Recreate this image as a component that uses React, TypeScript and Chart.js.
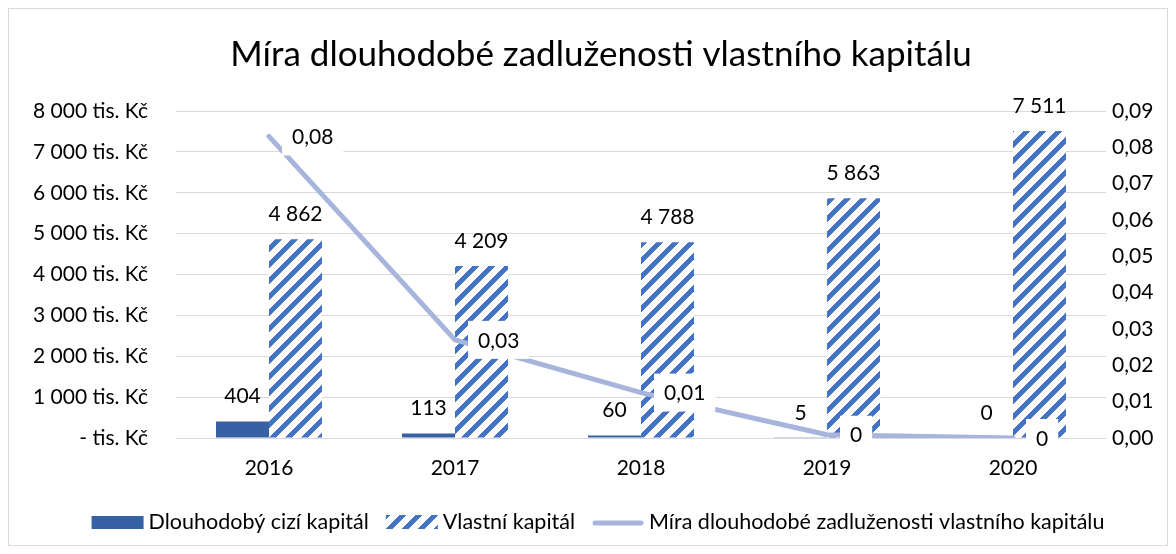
import React, { useEffect, useRef } from "react";
import { Chart, registerables } from "chart.js";

Chart.register(...registerables);

const chartTitle = "Míra dlouhodobé zadluženosti vlastního kapitálu";
const categories = ["2016", "2017", "2018", "2019", "2020"];
const seriesNames = [
  "Dlouhodobý cizí kapitál",
  "Vlastní kapitál",
  "Míra dlouhodobé zadluženosti vlastního kapitálu",
];
const longTermDebt = [404, 113, 60, 5, 0];
const equity = [4862, 4209, 4788, 5863, 7511];
const debtRatio = [0.083, 0.027, 0.0125, 0.0009, 0];
const leftTickLabels = [
  "- tis. Kč",
  "1 000 tis. Kč",
  "2 000 tis. Kč",
  "3 000 tis. Kč",
  "4 000 tis. Kč",
  "5 000 tis. Kč",
  "6 000 tis. Kč",
  "7 000 tis. Kč",
  "8 000 tis. Kč",
];
const rightTickLabels = [
  "0,00",
  "0,01",
  "0,02",
  "0,03",
  "0,04",
  "0,05",
  "0,06",
  "0,07",
  "0,08",
  "0,09",
];

const FONT = "Lato, 'Open Sans', sans-serif";
const TEXT = "#000000";
const SOLID = "#3761a5";
const HATCH = "#4472c4";
const LINE = "#a7b5dc";
const GRID = "#d9d9d9";

function makeHatch(): CanvasPattern | string {
  const size = 16;
  const c = document.createElement("canvas");
  c.width = size;
  c.height = size;
  const g = c.getContext("2d");
  if (!g) return HATCH;
  g.fillStyle = "#ffffff";
  g.fillRect(0, 0, size, size);
  g.fillStyle = HATCH;
  for (let y = 0; y < size; y++) {
    for (let x = 0; x < size; x++) {
      if ((x + y) % size < 7) g.fillRect(x, y, 1, 1);
    }
  }
  return g.createPattern(c, "repeat") || HATCH;
}

function fmtThousands(v: number): string {
  return String(Math.round(v)).replace(/\B(?=(\d{3})+(?!\d))/g, " ");
}

function fmtRatio(v: number): string {
  const r = Math.round(v * 100) / 100;
  if (r === 0) return "0";
  return r.toFixed(2).replace(".", ",");
}

export default function App() {
  const ref = useRef<HTMLCanvasElement | null>(null);

  useEffect(() => {
    const canvas = ref.current;
    if (!canvas) return;
    const hatch = makeHatch();

    const labelPlugin = {
      id: "customLabels",
      afterDatasetsDraw(chart: any) {
        const ctx = chart.ctx;
        ctx.save();
        ctx.font = `21px ${FONT}`;
        ctx.fillStyle = TEXT;
        ctx.textAlign = "center";
        ctx.textBaseline = "middle";
        // bar value labels
        [0, 1].forEach((di) => {
          const meta = chart.getDatasetMeta(di);
          const data = chart.data.datasets[di].data as number[];
          meta.data.forEach((el: any, i: number) => {
            ctx.fillText(fmtThousands(data[i]), el.x, el.y - 25);
          });
        });
        // line labels with white box, to the right of the point
        const lm = chart.getDatasetMeta(2);
        const ld = chart.data.datasets[2].data as number[];
        lm.data.forEach((el: any, i: number) => {
          const txt = fmtRatio(ld[i]);
          const w = ctx.measureText(txt).width;
          const bx = el.x + 13;
          const bw = w + 20;
          const bh = 38;
          ctx.fillStyle = "#ffffff";
          ctx.fillRect(bx, el.y - bh / 2, bw, bh);
          ctx.fillStyle = TEXT;
          ctx.textAlign = "left";
          ctx.fillText(txt, bx + 10, el.y + 1);
        });
        ctx.restore();
      },
      afterDraw(chart: any) {
        const ctx = chart.ctx;
        ctx.save();
        // title
        ctx.font = `35px ${FONT}`;
        ctx.fillStyle = TEXT;
        ctx.textAlign = "center";
        ctx.textBaseline = "middle";
        ctx.fillText(chartTitle, 592, 46);

        // legend
        ctx.font = `21.5px ${FONT}`;
        const sw = 52;
        const gapIn = 5;
        const gapOut = 17;
        const widths = seriesNames.map((n) => ctx.measureText(n).width);
        const total =
          widths.reduce((a, b) => a + b, 0) + 3 * (sw + gapIn) + 2 * gapOut;
        let x = 589 - total / 2;
        const ly = 513;
        seriesNames.forEach((name, i) => {
          if (i === 0) {
            ctx.fillStyle = SOLID;
            ctx.fillRect(x, ly - 6, sw, 13);
          } else if (i === 1) {
            ctx.fillStyle = hatch as any;
            ctx.fillRect(x, ly - 7, sw, 14);
          } else {
            ctx.strokeStyle = LINE;
            ctx.lineWidth = 5;
            ctx.lineCap = "round";
            ctx.beginPath();
            ctx.moveTo(x + 3, ly + 1);
            ctx.lineTo(x + sw - 3, ly + 1);
            ctx.stroke();
          }
          x += sw + gapIn;
          ctx.fillStyle = TEXT;
          ctx.textAlign = "left";
          ctx.textBaseline = "middle";
          ctx.fillText(name, x, ly);
          x += widths[i] + gapOut;
        });
        ctx.restore();
      },
    };

    const chart = new Chart(canvas, {
      type: "bar",
      data: {
        labels: categories,
        datasets: [
          {
            type: "bar",
            label: seriesNames[0],
            data: longTermDebt,
            backgroundColor: SOLID,
            yAxisID: "y",
            order: 1,
            categoryPercentage: 0.57,
            barPercentage: 1,
          },
          {
            type: "bar",
            label: seriesNames[1],
            data: equity,
            backgroundColor: hatch as any,
            yAxisID: "y",
            order: 1,
            categoryPercentage: 0.57,
            barPercentage: 1,
          },
          {
            type: "line",
            label: seriesNames[2],
            data: debtRatio,
            yAxisID: "y1",
            borderColor: LINE,
            borderWidth: 5,
            borderCapStyle: "round",
            borderJoinStyle: "round",
            pointRadius: 0,
            tension: 0,
            order: 0,
          },
        ] as any,
      },
      options: {
        responsive: false,
        animation: false,
        devicePixelRatio: 1,
        layout: { padding: { top: 102, left: 0, right: 0, bottom: 0 } },
        plugins: {
          legend: { display: false },
          title: { display: false },
          tooltip: { enabled: false },
        },
        scales: {
          x: {
            offset: true,
            grid: { display: false, drawTicks: false },
            border: { display: false },
            ticks: {
              color: TEXT,
              font: { family: FONT, size: 21 },
              padding: 18,
            },
            afterFit: (s: any) => {
              s.height = 107;
            },
          },
          y: {
            position: "left",
            min: 0,
            max: 8000,
            grid: { color: GRID, lineWidth: 1, drawTicks: false },
            border: { display: false },
            ticks: {
              stepSize: 1000,
              padding: 28,
              color: TEXT,
              font: { family: FONT, size: 21 },
              callback: (_v: any, i: number) => leftTickLabels[i],
            },
            afterFit: (s: any) => {
              s.width = 167;
            },
          },
          y1: {
            position: "right",
            min: 0,
            max: 0.09,
            grid: { display: false, drawTicks: false },
            border: { display: false },
            ticks: {
              stepSize: 0.01,
              padding: 6,
              color: TEXT,
              font: { family: FONT, size: 21 },
              callback: (v: any, i: number) =>
                rightTickLabels[i] ?? fmtRatio(Number(v)),
            },
            afterFit: (s: any) => {
              s.width = 61;
            },
          },
        },
      } as any,
      plugins: [labelPlugin],
    });

    return () => chart.destroy();
  }, []);

  return (
    <div
      style={{
        width: 1160,
        height: 538,
        boxSizing: "border-box",
        border: "1px solid #d9d9d9",
        background: "#ffffff",
      }}
    >
      <canvas ref={ref} width={1158} height={536} style={{ display: "block" }} />
    </div>
  );
}
